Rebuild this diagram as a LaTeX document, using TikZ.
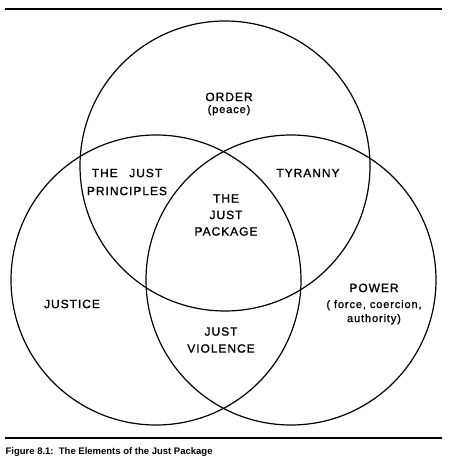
\documentclass[tikz,border=0pt]{standalone}
\usepackage{fontspec}
\setmainfont{Liberation Sans}
\newcommand{\lblfont}{\fontsize{12}{16.5}\selectfont\addfontfeatures{LetterSpace=8,FakeBold=1.2}}
\newcommand{\subfont}{\fontsize{11}{12}\selectfont\addfontfeatures{LetterSpace=8,FakeBold=1.2}}

\begin{document}
\begin{tikzpicture}[x=1pt,y=-1pt,line width=1.2pt,lbl/.style ={align=center, inner sep=0pt, font=\lblfont}, rule/.style ={line width=2pt}]
\useasboundingbox (0,0) rectangle (450,460);
% rules and caption
\draw[rule] (5,9) -- (442,9);
\draw[rule] (5,438) -- (442,438);
\draw (5,454) node[anchor=base west, inner sep=0pt, font=\fontsize{9.5}{11}\selectfont\bfseries] (caption) {Figure 8.1:\ \ The Elements of the Just Package};
% the three circles
\draw (225,166) circle (145);
\draw (156,280) circle (145);
\draw (291,280) circle (145);
% regions
\draw (229,104) node[lbl, font=\lblfont\fontsize{12}{12}\selectfont] (order) {ORDER\\{\subfont (peace)}};
\draw (127,182) node[lbl, font=\lblfont\fontsize{12}{18}\selectfont] (principles) {THE\hspace{0.6em} JUST\\PRINCIPLES};
\draw (308,173) node[lbl] (tyranny) {TYRANNY};
\draw (226,215) node[lbl] (package) {THE\\JUST\\PACKAGE};
\draw (72,304) node[lbl] (justice) {JUSTICE};
\draw (374,304) node[lbl, font=\lblfont\fontsize{12}{14}\selectfont] (power) {POWER\\[2pt]{\subfont ( force, coercion,}\\{\subfont authority)}};
\draw (221,340) node[lbl, font=\lblfont\fontsize{12}{17}\selectfont] (violence) {JUST\\VIOLENCE};

\end{tikzpicture}
\end{document}
